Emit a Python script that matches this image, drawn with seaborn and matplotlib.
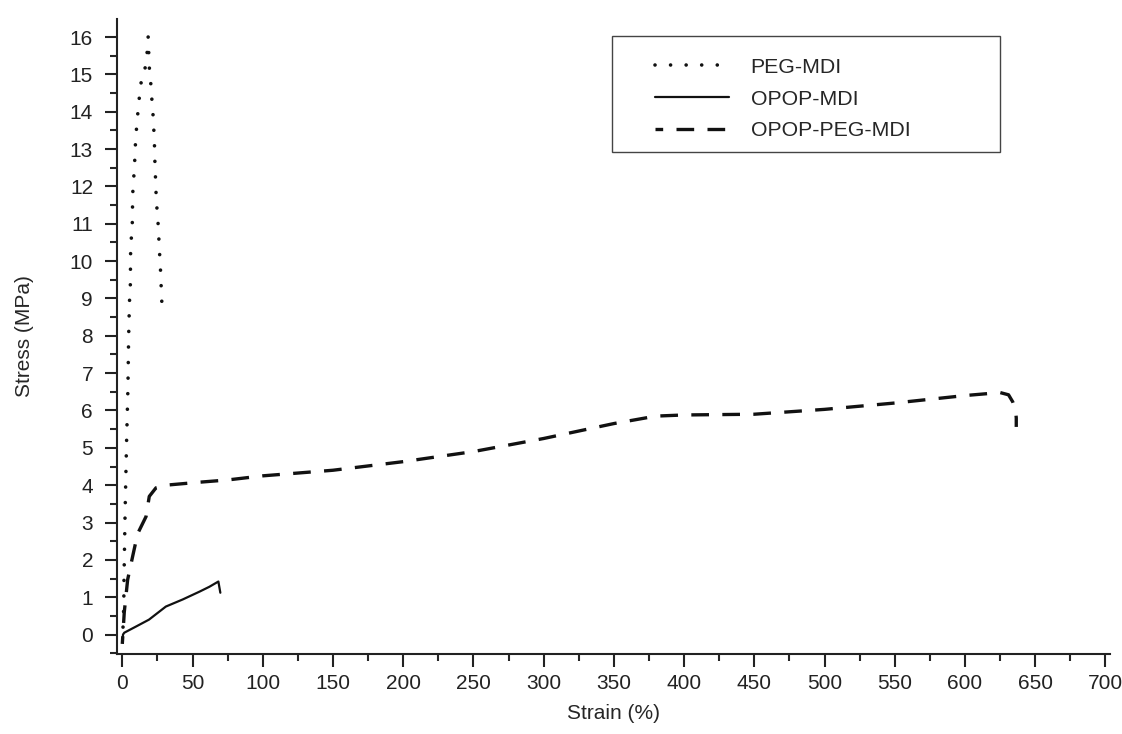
import pandas as pd
import matplotlib.pyplot as plt
from matplotlib.patches import Rectangle
from matplotlib.ticker import MultipleLocator
import seaborn as sns

sns.set_style("ticks")
plt.rcParams['font.family'] = ['Liberation Sans', 'DejaVu Sans']

# PEG-MDI (dotted)
peg_strain = [0.5, 0.9, 1.1, 1.2, 2.0, 3.0, 4.0, 4.5, 4.8, 5.0, 5.7, 5.9, 6.4, 7.1,
              7.4, 8.1, 8.8, 9.3, 10.0, 10.9, 11.9, 13.0, 14.5, 16.5, 17.6, 18.0,
              18.4, 19.2, 20.4, 21.1, 21.9, 22.6, 23.0, 23.3, 23.8, 24.2, 25.2,
              25.9, 26.4, 27.1, 27.8, 28.3]
peg_stress = [0.2, 0.6, 1.0, 1.47, 3.3, 5.1, 6.6, 7.97, 8.4, 8.85, 9.3, 10.2, 10.6,
              11.0, 11.8, 12.2, 12.65, 13.1, 13.5, 13.9, 14.3, 14.7, 15.0, 15.2,
              15.55, 15.9, 16.0, 15.2, 14.7, 14.3, 13.9, 13.4, 13.0, 12.5, 12.1,
              11.6, 11.2, 10.7, 10.3, 9.85, 9.2, 8.75]

# OPOP-MDI (solid)
opop_strain = [0.0, 0.5, 1.4, 10, 19, 31, 43, 55, 62, 68.4, 69.8]
opop_stress = [-0.2, 0.0, 0.05, 0.22, 0.4, 0.75, 0.94, 1.15, 1.28, 1.42, 1.12]

# OPOP-PEG-MDI (dashed)
blend_strain = [0.0, 1.4, 3.8, 7.4, 10.9, 16.9, 19.2, 24, 31, 55, 75, 100, 150,
                200, 250, 300, 350, 380, 400, 450, 500, 550, 600, 625, 631, 634,
                636, 636.5, 636.5]
blend_stress = [-0.25, 0.6, 1.47, 2.1, 2.7, 3.16, 3.7, 3.93, 4.0, 4.08, 4.14, 4.25,
                4.4, 4.63, 4.9, 5.25, 5.65, 5.85, 5.88, 5.9, 6.03, 6.2, 6.4, 6.48,
                6.42, 6.23, 6.0, 5.8, 5.56]

x_ticks = list(range(0, 701, 50))
y_ticks = list(range(0, 17))

peg = pd.DataFrame({'strain': peg_strain, 'stress': peg_stress})
opop = pd.DataFrame({'strain': opop_strain, 'stress': opop_stress})
blend = pd.DataFrame({'strain': blend_strain, 'stress': blend_stress})

fig = plt.figure(figsize=(11.22, 7.34), dpi=100)
ax = fig.add_axes([0.104, 0.109, 0.885, 0.865])

sns.lineplot(data=peg, x='strain', y='stress', sort=False, estimator=None, ax=ax,
             color='#111111', lw=2.6, label='PEG-MDI',
             linestyle=(0, (0.01, 4.3)), dash_capstyle='round')
sns.lineplot(data=opop, x='strain', y='stress', sort=False, estimator=None, ax=ax,
             color='#111111', lw=1.6, label='OPOP-MDI')
sns.lineplot(data=blend, x='strain', y='stress', sort=False, estimator=None, ax=ax,
             color='#111111', lw=2.4, label='OPOP-PEG-MDI',
             linestyle=(3, (5.3, 4.0)))

ax.set_xlim(-4, 703)
ax.set_ylim(-0.52, 16.48)
ax.set_xticks(x_ticks)
ax.set_yticks(y_ticks)
ax.xaxis.set_minor_locator(MultipleLocator(25))
ax.yaxis.set_minor_locator(MultipleLocator(0.5))
ax.tick_params(which='major', length=9, width=1.5, labelsize=15, colors='#222222')
ax.tick_params(which='minor', length=5, width=1.5)
ax.tick_params(axis='x', pad=5.5)
ax.tick_params(axis='y', pad=8)
sns.despine(ax=ax)
for s in ['left', 'bottom']:
    ax.spines[s].set_linewidth(1.5)
    ax.spines[s].set_color('#222222')

ax.set_xlabel('Strain (%)', fontsize=15, labelpad=8)
ax.set_ylabel('Stress (MPa)', fontsize=15, labelpad=26)

ax.add_patch(Rectangle((0.4985, 0.791), 0.391, 0.182, transform=ax.transAxes,
                       fill=False, edgecolor='#444444', lw=1.0))
ax.legend(loc='upper left', bbox_to_anchor=(0.542, 0.939), frameon=False,
          fontsize=15.3, handlelength=3.5, handletextpad=1.0, labelspacing=0.6,
          borderpad=0, borderaxespad=0)

fig.savefig('out.png', dpi=100)
